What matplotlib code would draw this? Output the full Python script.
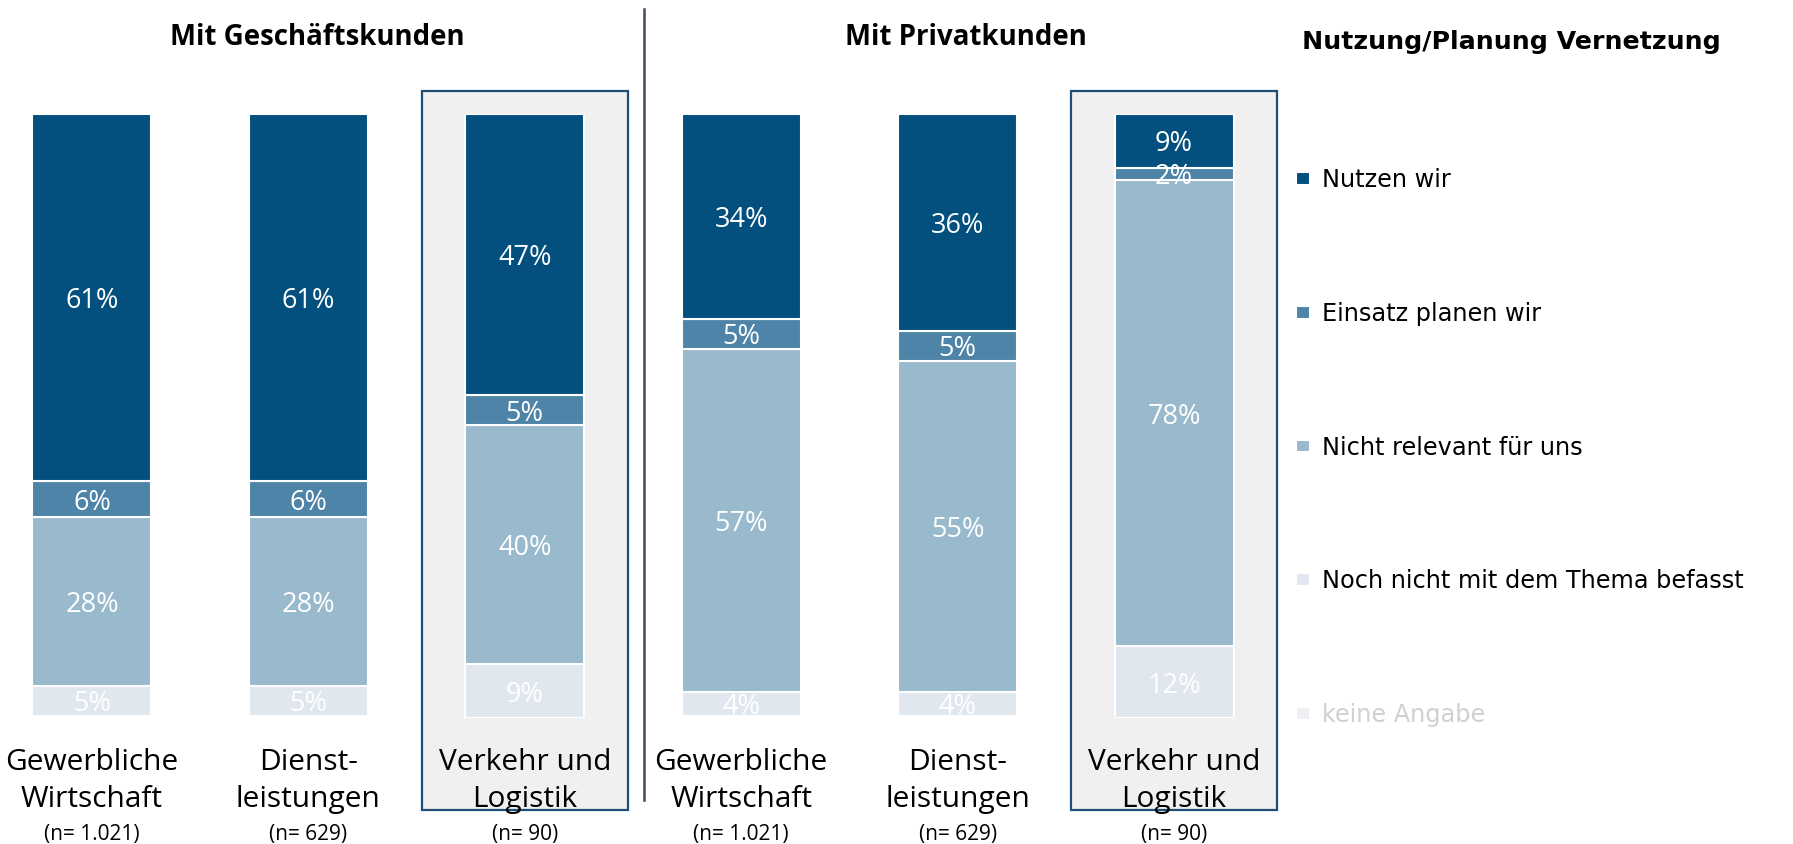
import numpy as np
import matplotlib.pyplot as plt
from matplotlib.patches import Rectangle

# ==================================================
# data
# ==================================================

categories = ["Gewerbliche\nWirtschaft", "Dienst-\nleistungen", "Verkehr und\nLogistik",
              "Gewerbliche\nWirtschaft", "Dienst-\nleistungen", "Verkehr und\nLogistik"]
sample_sizes = ["(n= 1.021)", "(n= 629)", "(n= 90)",
                "(n= 1.021)", "(n= 629)", "(n= 90)"]
group_titles = ["Mit Geschäftskunden", "Mit Privatkunden"]
highlight = [2, 5]

series_names = ["Nutzen wir", "Einsatz planen wir", "Nicht relevant für uns",
                "Noch nicht mit dem Thema befasst", "keine Angabe"]
nutzen = [61, 61, 47, 34, 36, 9]
planen = [6, 6, 5, 5, 5, 2]
nicht_relevant = [28, 28, 40, 57, 55, 78]
noch_nicht = [5, 5, 9, 4, 4, 12]
keine_angabe = [0.4, 0.4, 0, 0.4, 0.4, 0]

colors = ["#03507f", "#4e84a8", "#99b9cc", "#e0e7ef", "#eef0f3"]

# ==================================================
# plot
# ==================================================

fig = plt.figure(figsize=(17.93, 8.44), dpi=100)
ax = fig.add_axes([0, 0.1493, 1, 0.7156])

x = np.arange(len(categories))
series = [nutzen, planen, nicht_relevant, noch_nicht, keine_angabe]
data = np.array(series, dtype=float)
totals = data.sum(axis=0)
heights = data / totals * 100

font = "Open Sans"

# grey boxes behind highlighted bars
for i in highlight:
    ax.add_patch(Rectangle((i - 0.475, -15.2), 0.95, 119.0,
                           facecolor="#f0f0f0", edgecolor="#1f4e79",
                           lw=1.6, clip_on=False, zorder=0))

# stack from the bottom: keine Angabe ... Nutzen wir
bottom = np.zeros(len(categories))
handles = {}
for k in range(len(series) - 1, -1, -1):
    bars = ax.bar(x, heights[k], 0.55, bottom=bottom, color=colors[k],
                  edgecolor="white", lw=1.5, zorder=2, label=series_names[k])
    handles[k] = bars
    for i in range(len(x)):
        if data[k, i] >= 1:
            ax.text(x[i], bottom[i] + heights[k, i] / 2, f"{data[k, i]:.0f}%",
                    ha="center", va="center_baseline", color="white",
                    fontsize=19.5, family=font, zorder=3)
    bottom += heights[k]

# category labels
for i, (cat, n) in enumerate(zip(categories, sample_sizes)):
    ax.text(x[i], -10.4, cat, ha="center", va="center", fontsize=21.5,
            family=font, linespacing=1.38, clip_on=False, zorder=3)
    ax.text(x[i], -19.3, n, ha="center", va="center", fontsize=15,
            family=font, clip_on=False, zorder=3)

# divider
ax.plot([2.55, 2.55], [-13.6, 117.4], color="#3f4c5c", lw=1.8,
        clip_on=False, zorder=1)

ax.set_xlim(-0.425, 7.86)
ax.set_ylim(0, 100)
ax.axis("off")

# titles
fig.text(0.177, 0.955, group_titles[0], ha="center", va="center",
         fontsize=19.9, fontweight="bold", family=font)
fig.text(0.539, 0.955, group_titles[1], ha="center", va="center",
         fontsize=19.9, fontweight="bold", family=font)

# legend
leg = fig.legend([handles[k] for k in range(len(series))], series_names,
                 loc="upper left", bbox_to_anchor=(0.7228, 0.801),
                 bbox_transform=fig.transFigure, frameon=False,
                 borderpad=0, borderaxespad=0, handlelength=0.6,
                 handleheight=0.45, handletextpad=0.5, labelspacing=4.57,
                 prop={"family": "DejaVu Sans", "size": 17.3})
leg.get_texts()[4].set_color("#d0d0d0")
fig.text(0.8427, 0.950, "Nutzung/Planung Vernetzung", ha="center",
         va="center", fontsize=18.2, fontweight="bold", family="DejaVu Sans")

fig.savefig("out.png", dpi=100)
